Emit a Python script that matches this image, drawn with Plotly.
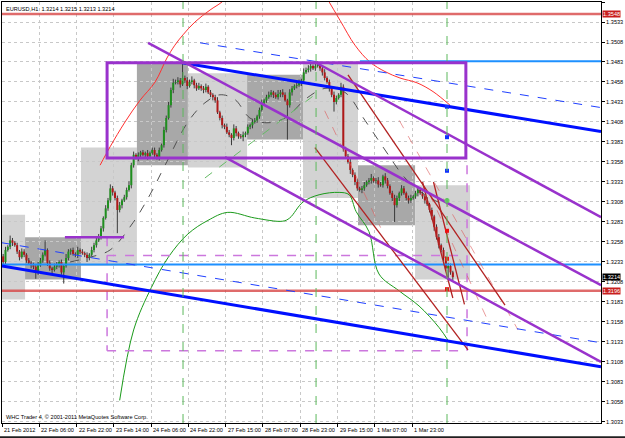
import plotly.graph_objects as go

# ---------------- data ----------------
closes_pips = [
    13233,13248,13252,13260,13257,13254,13246,13239,13246,13242,
    13235,13232,13229,13227,13220,13229,13235,13242,13248,13232,
    13225,13223,13227,13230,13233,13220,13228,13238,13246,13248,
    13243,13242,13248,13246,13244,13242,13238,13242,13248,13254,
    13260,13264,13275,13288,13300,13310,13325,13320,13313,13298,
    13304,13310,13314,13323,13329,13354,13367,13363,13367,13370,
    13367,13369,13365,13369,13373,13367,13364,13373,13379,13398,
    13413,13429,13448,13457,13458,13460,13455,13463,13460,13453,
    13458,13460,13454,13450,13453,13450,13448,13452,13445,13442,
    13439,13435,13420,13413,13404,13402,13395,13392,13388,13400,
    13394,13390,13389,13392,13394,13402,13404,13408,13410,13415,
    13423,13432,13435,13439,13442,13445,13442,13439,13443,13445,
    13442,13435,13429,13445,13450,13453,13454,13457,13460,13470,
    13473,13475,13478,13475,13478,13480,13475,13470,13463,13458,
    13450,13442,13433,13438,13442,13452,13375,13365,13358,13348,
    13342,13333,13325,13323,13325,13329,13333,13335,13338,13334,
    13335,13330,13329,13340,13335,13328,13319,13313,13304,13313,
    13319,13325,13319,13313,13310,13313,13315,13319,13323,13319,
    13315,13310,13305,13298,13290,13277,13264,13254,13248,13238,
    13225,13228,13220,13214]
first_open_pips = 13240
up_wick = [
    3,4,2,6,3,2,3,2,4,3, 2,3,2,3,2,4,3,3,12,2, 3,2,4,3,2,3,2,5,3,2,
    3,2,4,2,3,2,3,2,4,3, 3,4,3,2,4,3,5,3,2,3, 4,2,3,3,5,3,4,2,3,2,
    3,2,4,2,3,3,2,3,2,4, 3,4,3,5,3,4,3,19,3,4, 3,5,2,3,4,2,3,4,2,3,
    2,3,4,2,3,2,4,3,2,5, 3,2,3,4,2,3,2,4,3,2, 3,4,2,3,4,3,2,3,5,3,
    4,3,2,4,3,2,3,4,2,5, 3,4,3,2,3,4,2,3,4,2, 3,2,4,3,2,5,3,2,3,4,
    2,3,4,2,3,4,2,3,5,2, 3,4,3,2,4,3,2,3,4,3, 2,4,3,2,3,4,2,3,4,3,
    2,3,4,2,3,2,3,4,2,3, 2,4,3,2]
dn_wick = [
    4,3,2,3,4,2,3,4,2,3, 3,2,4,3,8,3,2,3,2,4, 3,4,2,3,4,3,14,2,3,4,
    2,3,4,3,2,3,5,3,2,3, 3,2,3,4,2,3,3,4,3,29, 3,4,2,3,2,4,3,2,4,3,
    2,3,4,3,2,5,3,4,2,3, 3,2,3,4,2,3,4,2,3,4, 2,3,4,3,2,3,4,3,2,3,
    4,3,2,3,4,3,2,3,9,3, 4,3,2,5,3,2,3,4,2,3, 3,2,4,3,2,3,4,2,3,4,
    3,2,43,3,4,2,3,2,4,3, 2,3,4,2,3,2,3,4,3,2, 4,3,12,3,2,3,4,3,2,5,
    3,4,3,2,4,3,2,3,4,2, 3,4,2,3,4,3,2,4,21,3, 4,3,2,3,4,3,2,3,4,2,
    3,4,2,3,4,5,3,4,3,4, 3,12,3,4]

x_labels = ["21 Feb 2012", "22 Feb 06:00", "22 Feb 22:00", "23 Feb 14:00",
            "24 Feb 06:00", "24 Feb 22:00", "27 Feb 15:00", "28 Feb 07:00",
            "28 Feb 23:00", "29 Feb 15:00", "1 Mar 07:00", "1 Mar 23:00"]
label_every = 16
y_ticks = [1.3033, 1.3058, 1.3083, 1.3108, 1.3133, 1.3158, 1.3183, 1.3208,
           1.3233, 1.3258, 1.3283, 1.3308, 1.3333, 1.3358, 1.3383, 1.3408,
           1.3433, 1.3458, 1.3483, 1.3508, 1.3533, 1.3558]

# shaded zones (bar index from/to, price low/high, dark?)
zone_x0 = [-0.5, 9.4, 33.4, 57.4, 79.3, 104.7, 128.7, 152.3, 176.8]
zone_x1 = [9.4, 33.4, 57.4, 79.3, 104.7, 128.7, 152.3, 176.8, 200.4]
zone_lo = [1.3186, 1.3211, 1.3228, 1.3354, 1.3351, 1.3386, 1.3313, 1.3279, 1.3211]
zone_hi = [1.3292, 1.3264, 1.3376, 1.3482, 1.3469, 1.3467, 1.3483, 1.3354, 1.3329]
zone_dark = [False, True, False, True, False, True, False, True, False]

box_x = [44.6, 198.6]
box_y = [1.3363, 1.3482]
box2_x = [44.6, 199.1]
box2_y = [1.3122, 1.3241]
box2_left_top = 1.3264
box2_right_top = 1.3354

# trend lines: x0, y0, x1, y1
purple_lines = [(133.8, 1.3483, 256.6, 1.3289),
                (62.2, 1.3507, 256.6, 1.3204),
                (95.2, 1.3364, 256.6, 1.3108)]
purple_hline = (26.5, 51.9, 1.3264)
blue_lines = [(76.8, 1.3482, 256.6, 1.3396),
              (-0.5, 1.3228, 256.6, 1.3102)]
blue_dash_lines = [(84.5, 1.3507, 256.6, 1.3426),
                   (-0.5, 1.3257, 256.6, 1.3132)]
lightblue_levels = [(153.1, 256.6, 1.3484), (-0.5, 256.6, 1.3230)]
red_levels = [1.3543, 1.3197]
red_level_text = ["1.3548", "1.3196"]
red_lines = [(148.0, 1.3467, 215.4, 1.3179),
             (133.8, 1.3376, 199.5, 1.3123),
             (180.0, 1.3333, 193.0, 1.3188),
             (184.7, 1.3333, 198.0, 1.3180)]
pale_red_dash_lines = [(138.0, 1.3422, 162.0, 1.3276),
                       (170.0, 1.3410, 221.0, 1.3148),
                       (183.0, 1.3318, 208.0, 1.3160)]
green_dash_line = (86.6, 1.3338, 135.1, 1.3445)
vlines_green = [77.2, 134.3, 190.5]

band_up_x = [41.6, 45.9, 52.3, 58.7, 65.2, 70.3, 73.7, 77.2, 82.3, 88.8, 93.9, 100.0]
band_up_y = [1.3354, 1.3377, 1.3408, 1.3435, 1.3458, 1.3488, 1.3504, 1.3517, 1.3533, 1.3548, 1.3558, 1.3575]
band_up2_x = [138.1, 144.6, 151.0, 157.4, 163.9, 170.3, 177.6, 184.5, 191.8]
band_up2_y = [1.3567, 1.3535, 1.3504, 1.3483, 1.3471, 1.3463, 1.3457, 1.3446, 1.3429]
mid_x = [28.7, 37.3, 45.9, 55.7, 63.0, 69.5, 79.3, 86.6, 93.1, 99.5, 105.9, 113.2,
         121.0, 130.4, 138.1, 146.7, 155.3, 163.9, 172.5, 181.0, 189.6]
mid_y = [1.3233, 1.3239, 1.3248, 1.3282, 1.3317, 1.3354, 1.3408, 1.3432, 1.3442, 1.3436,
         1.3413, 1.3407, 1.3413, 1.3438, 1.3450, 1.3445, 1.3410, 1.3373, 1.3338, 1.3317, 1.3304]
low_band_x = [50.0, 56.0, 63.6, 70.9, 79.3, 87.9, 96.4, 108.0, 120.0, 123.0, 128.7, 135.6,
              144.2, 148.5, 151.5, 157.0, 161.3, 169.9, 178.5, 187.1, 191.4]
low_band_y = [1.3060, 1.3148, 1.3201, 1.3239, 1.3268, 1.3285, 1.3295, 1.3288, 1.3284,
              1.3288, 1.3308, 1.3317, 1.3320, 1.3317, 1.3296, 1.3271, 1.3218, 1.3197,
              1.3178, 1.3151, 1.3133]

marker_x = 190.5
marker_blue = [1.3427, 1.3389, 1.3347]
marker_green = [1.3310]
marker_red = [1.3272, 1.3237, 1.3199]

title_text = "EURUSD,H1  1.3214 1.3215 1.3213 1.3214"
copyright_text = "WHC Trader 4, \u00a9 2001-2011 MetaQuotes Software Corp."
last_price_text = "1.3214"

# ---------------- build ----------------
PURPLE = "#9932CC"
FONT = "Liberation Sans"
fig = go.Figure()

def seg(x0, y0, x1, y1, color, width, dash="solid"):
    fig.add_trace(go.Scatter(x=[x0, x1], y=[y0, y1], mode="lines",
                             line=dict(color=color, width=width, dash=dash),
                             hoverinfo="skip", showlegend=False))

# zones (below everything)
for a, b, lo, hi, dk in zip(zone_x0, zone_x1, zone_lo, zone_hi, zone_dark):
    fig.add_shape(type="rect", xref="x", yref="y", x0=a, x1=b, y0=lo, y1=hi,
                  fillcolor="#A8A8A8" if dk else "#D3D3D3", line_width=0, layer="below")

# candles
n = len(closes_pips)
opens = [first_open_pips] + closes_pips[:-1]
wx, wy = [], []
gx, gy, rx, ry = [], [], [], []
for i in range(n):
    o, c = opens[i], closes_pips[i]
    hi = max(o, c) + up_wick[i]
    lo = min(o, c) - dn_wick[i]
    wx += [i, i, None]
    wy += [lo / 10000, hi / 10000, None]
    if c >= o:
        gx += [i, i, None]; gy += [o / 10000, max(c, o + 1) / 10000, None]
    else:
        rx += [i, i, None]; ry += [o / 10000, c / 10000, None]
fig.add_trace(go.Scatter(x=wx, y=wy, mode="lines", line=dict(color="#3a3a3a", width=1),
                         hoverinfo="skip", showlegend=False))
fig.add_trace(go.Scatter(x=gx, y=gy, mode="lines", line=dict(color="#1f8f1f", width=2),
                         hoverinfo="skip", showlegend=False))
fig.add_trace(go.Scatter(x=rx, y=ry, mode="lines", line=dict(color="#b01818", width=2),
                         hoverinfo="skip", showlegend=False))

# indicator curves
fig.add_trace(go.Scatter(x=band_up_x, y=band_up_y, mode="lines", line=dict(color="#ff3030", width=1),
                         line_shape="spline", hoverinfo="skip", showlegend=False))
fig.add_trace(go.Scatter(x=band_up2_x, y=band_up2_y, mode="lines", line=dict(color="#ff3030", width=1),
                         line_shape="spline", hoverinfo="skip", showlegend=False))
fig.add_trace(go.Scatter(x=mid_x, y=mid_y, mode="lines", line=dict(color="#505050", width=1, dash="dash"),
                         line_shape="spline", hoverinfo="skip", showlegend=False))
fig.add_trace(go.Scatter(x=low_band_x, y=low_band_y, mode="lines", line=dict(color="#1a9a1a", width=1),
                         line_shape="spline", hoverinfo="skip", showlegend=False))

# verticals
for vx in vlines_green:
    fig.add_shape(type="line", xref="x", yref="paper", x0=vx, x1=vx, y0=0, y1=1,
                  line=dict(color="#5cb85c", width=1, dash="dash"))

# pink dashed box
pk = dict(color="#CC77DD", width=1.5, dash="dash")
seg(box2_x[0], box2_y[1], box2_x[1], box2_y[1], pk["color"], pk["width"], pk["dash"])
seg(box2_x[0], box2_y[0], box2_x[1], box2_y[0], pk["color"], pk["width"], pk["dash"])
seg(box2_x[0], box2_left_top, box2_x[0], box2_y[0], pk["color"], pk["width"], pk["dash"])
seg(box2_x[1], box2_right_top, box2_x[1], box2_y[0], pk["color"], pk["width"], pk["dash"])

# horizontal levels
for x0, x1, lv in lightblue_levels:
    seg(x0, lv, x1, lv, "#1E90FF", 2)
for lv in red_levels:
    seg(-0.5, lv, 256.6, lv, "rgba(215,70,70,0.8)", 2.5)

seg(*green_dash_line, "#66bb66", 1, "dash")
for l in pale_red_dash_lines:
    seg(*l, "rgba(220,90,90,0.6)", 1, "dash")
for l in blue_dash_lines:
    seg(*l, "#2040ff", 1, "dash")
for l in red_lines:
    seg(*l, "#b22222", 1.3)
for l in blue_lines:
    seg(*l, "#0010ff", 3)
for l in purple_lines:
    seg(*l, PURPLE, 2.5)
seg(purple_hline[0], purple_hline[2], purple_hline[1], purple_hline[2], PURPLE, 2.5)
fig.add_shape(type="rect", xref="x", yref="y", x0=box_x[0], x1=box_x[1], y0=box_y[0], y1=box_y[1],
              line=dict(color=PURPLE, width=3), fillcolor="rgba(0,0,0,0)", layer="above")

# markers
fig.add_trace(go.Scatter(x=[marker_x] * len(marker_blue), y=marker_blue, mode="markers",
                         marker=dict(symbol="square", size=4, color="#1030ff"), hoverinfo="skip", showlegend=False))
fig.add_trace(go.Scatter(x=[marker_x] * len(marker_green), y=marker_green, mode="markers",
                         marker=dict(symbol="circle", size=5, color="#66cc66"), hoverinfo="skip", showlegend=False))
fig.add_trace(go.Scatter(x=[marker_x] * len(marker_red), y=marker_red, mode="markers",
                         marker=dict(symbol="square", size=4, color="#ee1010"), hoverinfo="skip", showlegend=False))

# annotations
ann = []
for k, t in enumerate(x_labels):
    ann.append(dict(x=k * label_every - 0.5, y=0, xref="x", yref="paper", text=t, showarrow=False,
                    xanchor="left", yanchor="top", yshift=-2, font=dict(family=FONT, size=5.6, color="black")))
ann.append(dict(x=0, y=1, xref="paper", yref="paper", text=title_text, showarrow=False,
                xanchor="left", yanchor="top", xshift=2, yshift=-2,
                font=dict(family=FONT, size=5.6, color="black")))
ann.append(dict(x=0, y=0, xref="paper", yref="paper", text=copyright_text, showarrow=False,
                xanchor="left", yanchor="bottom", xshift=2, yshift=1,
                font=dict(family=FONT, size=5.6, color="black")))
for lv, t in zip(red_levels, red_level_text):
    ann.append(dict(x=1, y=lv, xref="paper", yref="y", text=t, showarrow=False, xanchor="left",
                    yanchor="middle", xshift=1, bgcolor="#c81e1e", borderpad=0,
                    font=dict(family=FONT, size=5.6, color="white")))
ann.append(dict(x=1, y=closes_pips[-1] / 10000, xref="paper", yref="y", text=last_price_text, showarrow=False,
                xanchor="left", yanchor="middle", xshift=1, bgcolor="#000000", borderpad=0,
                font=dict(family=FONT, size=5.6, color="white")))

fig.update_layout(
    width=625, height=438, margin=dict(l=2, r=24, t=2, b=15),
    paper_bgcolor="white", plot_bgcolor="white", showlegend=False,
    annotations=ann,
    xaxis=dict(range=[-0.5, 256.6], showgrid=True, gridcolor="#c8c8c8", griddash="dot",
               tickvals=[k * label_every - 0.5 for k in range(len(x_labels))], ticktext=[""] * len(x_labels),
               ticks="outside", ticklen=3, tickcolor="black", showline=True, linecolor="black",
               mirror=True, zeroline=False, fixedrange=True),
    yaxis=dict(range=[1.30317, 1.3558], side="right", tickvals=y_ticks,
               ticktext=["%.4f" % v for v in y_ticks], showgrid=True, gridcolor="#c8c8c8", griddash="dot",
               ticks="outside", ticklen=3, tickcolor="black", showline=True, linecolor="black",
               mirror=True, zeroline=False, tickfont=dict(family=FONT, size=5.6, color="black")),
)
fig.add_shape(type="line", xref="paper", yref="paper", x0=-0.01, x1=1.05, y0=-0.034, y1=-0.034,
              line=dict(color="#202020", width=2))

fig.write_html("out.html")
